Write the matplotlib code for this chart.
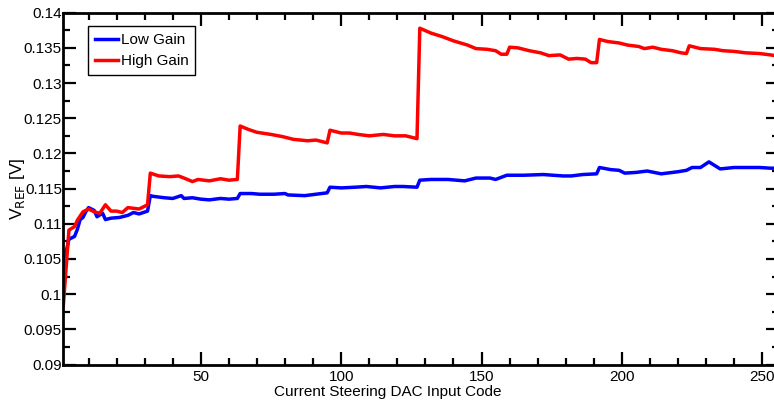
import matplotlib
matplotlib.use('Agg')
import matplotlib.pyplot as plt
from matplotlib.ticker import MultipleLocator, FixedLocator, FixedFormatter

plt.rcParams['font.family'] = ['Liberation Sans', 'DejaVu Sans']

# values (DAC code, V_REF in volts)
high_code = [1, 3, 5, 6, 8, 10, 12, 14, 16, 18, 20, 22, 24, 26, 28, 31,
             32, 35, 39, 42, 44, 47, 49, 51, 53, 57, 60, 63,
             64, 67, 70, 75, 79, 83, 88, 91, 95,
             96, 100, 103, 106, 110, 115, 119, 123, 127,
             128, 132, 136, 140, 145, 148, 152, 155, 157, 159,
             160, 163, 167, 171, 174, 178, 181, 184, 187, 189, 191,
             192, 195, 199, 202, 206, 208, 211, 214, 218, 221, 223,
             224, 228, 233, 236, 240, 244, 249, 253, 256]
high_vref = [0.0984, 0.1091, 0.1096, 0.1105, 0.1117, 0.1121, 0.1117, 0.1115, 0.1127,
             0.1118, 0.1118, 0.1116, 0.1123, 0.1122, 0.1121, 0.1127,
             0.1172, 0.1168, 0.1167, 0.1168, 0.1165, 0.1160, 0.1163, 0.1162, 0.1161,
             0.1164, 0.1162, 0.1163,
             0.1239, 0.1234, 0.1230, 0.1227, 0.1224, 0.1220, 0.1218, 0.1219, 0.1215,
             0.1233, 0.1229, 0.1229, 0.1227, 0.1225, 0.1227, 0.1225, 0.1225, 0.1221,
             0.1378, 0.1371, 0.1366, 0.1360, 0.1354, 0.1349, 0.1348, 0.1346, 0.1341, 0.1341,
             0.1351, 0.1350, 0.1346, 0.1343, 0.1339, 0.1340, 0.1334, 0.1335, 0.1334,
             0.1329, 0.1329,
             0.1362, 0.1359, 0.1357, 0.1354, 0.1352, 0.1349, 0.1351, 0.1348, 0.1346,
             0.1343, 0.1342,
             0.1353, 0.1349, 0.1348, 0.1346, 0.1345, 0.1343, 0.1342, 0.1340, 0.1338]

low_code = [1, 2, 3, 5, 6, 7, 8, 9, 10, 12, 13, 15, 16, 18, 21, 24, 26, 28, 31,
            32, 33, 37, 40, 43, 44, 47, 50, 53, 57, 60, 63,
            64, 68, 71, 76, 80, 81, 87, 91, 95,
            96, 100, 105, 109, 114, 119, 122, 127,
            128, 132, 138, 144, 148, 153, 155, 159, 165, 172, 179, 182, 186, 191,
            192, 196, 199, 201, 205, 209, 214, 220, 223,
            225, 228, 231, 235, 240, 245, 249, 253, 256]
low_vref = [0.0995, 0.1060, 0.1078, 0.1082, 0.1092, 0.1106, 0.1109, 0.1117, 0.1123,
            0.1119, 0.1110, 0.1115, 0.1106, 0.1108, 0.1109, 0.1112, 0.1116, 0.1114, 0.1118,
            0.1140, 0.1139, 0.1137, 0.1136, 0.1140, 0.1136, 0.1137, 0.1135, 0.1134,
            0.1136, 0.1135, 0.1136,
            0.1143, 0.1143, 0.1142, 0.1142, 0.1143, 0.1141, 0.1140, 0.1142, 0.1144,
            0.1152, 0.1151, 0.1152, 0.1153, 0.1151, 0.1153, 0.1153, 0.1152,
            0.1162, 0.1163, 0.1163, 0.1161, 0.1165, 0.1165, 0.1163, 0.1169, 0.1169,
            0.1170, 0.1168, 0.1168, 0.1170, 0.1171,
            0.1180, 0.1177, 0.1176, 0.1172, 0.1173, 0.1175, 0.1171, 0.1174, 0.1176,
            0.1180, 0.1180, 0.1188, 0.1178, 0.1180, 0.1180, 0.1180, 0.1179, 0.1179]

series_labels = ['Low Gain', 'High Gain']
x_ticks = [50, 100, 150, 200, 250]
y_ticks = [0.09, 0.095, 0.1, 0.105, 0.11, 0.115, 0.12, 0.125, 0.13, 0.135, 0.14]
y_ticklabels = ['0.09', '0.095', '0.1', '0.105', '0.11', '0.115', '0.12',
                '0.125', '0.13', '0.135', '0.14']

fig = plt.figure(figsize=(7.74, 4.05), dpi=100)
# axes runs a little past the right edge of the figure, as in the reference
ax = fig.add_axes([0.0818, 0.1, 0.9248, 0.8686])

ax.plot(low_code, low_vref, color='#0000ff', lw=2.5, label=series_labels[0])
ax.plot(high_code, high_vref, color='#ff0000', lw=2.5, label=series_labels[1])

ax.set_xlim(1, 256)
ax.set_ylim(0.09, 0.14)

ax.xaxis.set_major_locator(FixedLocator(x_ticks))
ax.xaxis.set_minor_locator(MultipleLocator(10))
ax.yaxis.set_major_locator(FixedLocator(y_ticks))
ax.yaxis.set_major_formatter(FixedFormatter(y_ticklabels))
ax.yaxis.set_minor_locator(MultipleLocator(0.0025))

ax.tick_params(which='both', direction='in', top=True, right=True,
               width=1.6, labelsize=11, colors='black')
ax.tick_params(which='major', length=9.5)
ax.tick_params(which='minor', length=5)
ax.tick_params(axis='y', pad=1)
ax.tick_params(axis='x', pad=4)

for s in ax.spines.values():
    s.set_linewidth(2)

ax.set_xlabel('Current Steering DAC Input Code', fontsize=11)
ax.xaxis.set_label_coords((388 - 63.3) / 716, -0.058)
ax.set_ylabel(r'V$_{\rm REF}$ [V]', fontsize=12.5)
ax.yaxis.set_label_coords(-0.064, 0.5)
ax.yaxis.label.set_va('center')

leg = ax.legend(loc='upper left', bbox_to_anchor=(0.0345, 0.9617), borderaxespad=0,
                fancybox=False, framealpha=1, edgecolor='black', fontsize=11,
                handlelength=1.5, handletextpad=0.2, labelspacing=0.45,
                borderpad=0.45)
leg.get_frame().set_linewidth(1.0)

fig.savefig('out.png', dpi=100)
